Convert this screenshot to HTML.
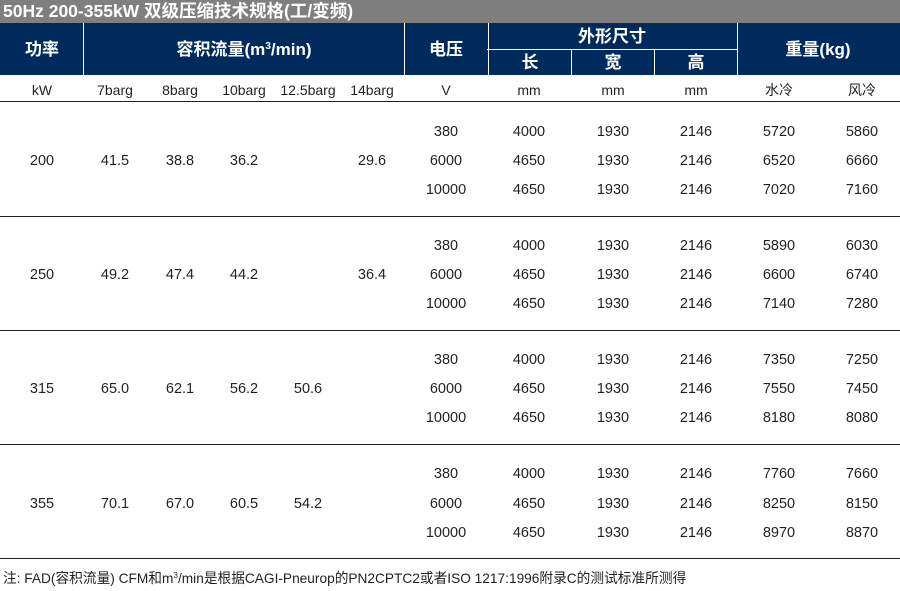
<!DOCTYPE html>
<html><head><meta charset="utf-8">
<style>
*{margin:0;padding:0;box-sizing:border-box}
html,body{width:900px;height:591px;background:#fff;overflow:hidden}
body{position:relative;font-family:"Liberation Sans","Noto Sans CJK SC",sans-serif;color:#231f20}
.t{position:absolute;left:0;top:0;width:900px;height:23px;background:#7f7f7f;color:#fff;font-weight:bold;font-size:17.5px;line-height:23px;padding-left:3px;white-space:nowrap}
.hd{position:absolute;left:0;top:23px;width:900px;height:52px;background:#002a5c}
.vl{position:absolute;width:1px;background:#fff}
.hl{position:absolute;height:1px;background:#fff}
.h{position:absolute;color:#fff;font-weight:bold;font-size:17px;text-align:center;line-height:22px;white-space:nowrap;width:200px;margin-top:1px}
.c{position:absolute;width:90px;text-align:center;font-size:14.5px;line-height:20px;white-space:nowrap;margin-top:2px}
.u{position:absolute;width:90px;text-align:center;font-size:14px;line-height:20px;white-space:nowrap;margin-top:1px}
.sep{position:absolute;left:0;width:900px;height:1.5px;background:#231f20}
.note{position:absolute;left:3px;top:568px;font-size:14px;line-height:20px;white-space:nowrap;transform-origin:0 50%}
sup{font-size:60%;vertical-align:0;position:relative;top:-0.55em}
</style></head><body>
<div class="t">50Hz 200-355kW 双级压缩技术规格(工/变频)</div>
<div class="hd"></div>
<div class="vl" style="left:83px;top:23px;height:52px"></div>
<div class="vl" style="left:404px;top:23px;height:52px"></div>
<div class="vl" style="left:488px;top:23px;height:52px"></div>
<div class="vl" style="left:737px;top:23px;height:52px"></div>
<div class="hl" style="left:487px;top:49px;width:250px"></div>
<div class="vl" style="left:571px;top:49px;height:26px"></div>
<div class="vl" style="left:654px;top:49px;height:26px"></div>

<div class="h" style="left:-58px;top:38px">功率</div>
<div class="h" style="left:144px;top:38px">容积流量(m<sup>3</sup>/min)</div>
<div class="h" style="left:346px;top:38px">电压</div>
<div class="h" style="left:512px;top:25px">外形尺寸</div>
<div class="h" style="left:430px;top:51px">长</div>
<div class="h" style="left:513px;top:51px">宽</div>
<div class="h" style="left:596px;top:51px">高</div>
<div class="h" style="left:718px;top:38px">重量(kg)</div>

<div class="u" style="left:-3px;top:79px">kW</div>
<div class="u" style="left:70px;top:79px">7barg</div>
<div class="u" style="left:135px;top:79px">8barg</div>
<div class="u" style="left:199px;top:79px">10barg</div>
<div class="u" style="left:263px;top:79px">12.5barg</div>
<div class="u" style="left:327px;top:79px">14barg</div>
<div class="u" style="left:401px;top:79px">V</div>
<div class="u" style="left:484px;top:79px">mm</div>
<div class="u" style="left:568px;top:79px">mm</div>
<div class="u" style="left:651px;top:79px">mm</div>
<div class="u" style="left:734px;top:79px">水冷</div>
<div class="u" style="left:817px;top:79px">风冷</div>

<div class="sep" style="top:100.5px"></div>
<div class="sep" style="top:215.5px"></div>
<div class="sep" style="top:329.5px"></div>
<div class="sep" style="top:443.5px"></div>
<div class="sep" style="top:557.5px"></div>

<!-- Group 1 -->
<div class="c" style="left:-3px;top:149px">200</div>
<div class="c" style="left:70px;top:149px">41.5</div>
<div class="c" style="left:135px;top:149px">38.8</div>
<div class="c" style="left:199px;top:149px">36.2</div>
<div class="c" style="left:327px;top:149px">29.6</div>
<div class="c" style="left:401px;top:120px">380</div>
<div class="c" style="left:401px;top:149px">6000</div>
<div class="c" style="left:401px;top:178px">10000</div>
<div class="c" style="left:484px;top:120px">4000</div>
<div class="c" style="left:484px;top:149px">4650</div>
<div class="c" style="left:484px;top:178px">4650</div>
<div class="c" style="left:568px;top:120px">1930</div>
<div class="c" style="left:568px;top:149px">1930</div>
<div class="c" style="left:568px;top:178px">1930</div>
<div class="c" style="left:651px;top:120px">2146</div>
<div class="c" style="left:651px;top:149px">2146</div>
<div class="c" style="left:651px;top:178px">2146</div>
<div class="c" style="left:734px;top:120px">5720</div>
<div class="c" style="left:734px;top:149px">6520</div>
<div class="c" style="left:734px;top:178px">7020</div>
<div class="c" style="left:817px;top:120px">5860</div>
<div class="c" style="left:817px;top:149px">6660</div>
<div class="c" style="left:817px;top:178px">7160</div>

<!-- Group 2 -->
<div class="c" style="left:-3px;top:263px">250</div>
<div class="c" style="left:70px;top:263px">49.2</div>
<div class="c" style="left:135px;top:263px">47.4</div>
<div class="c" style="left:199px;top:263px">44.2</div>
<div class="c" style="left:327px;top:263px">36.4</div>
<div class="c" style="left:401px;top:234px">380</div>
<div class="c" style="left:401px;top:263px">6000</div>
<div class="c" style="left:401px;top:292px">10000</div>
<div class="c" style="left:484px;top:234px">4000</div>
<div class="c" style="left:484px;top:263px">4650</div>
<div class="c" style="left:484px;top:292px">4650</div>
<div class="c" style="left:568px;top:234px">1930</div>
<div class="c" style="left:568px;top:263px">1930</div>
<div class="c" style="left:568px;top:292px">1930</div>
<div class="c" style="left:651px;top:234px">2146</div>
<div class="c" style="left:651px;top:263px">2146</div>
<div class="c" style="left:651px;top:292px">2146</div>
<div class="c" style="left:734px;top:234px">5890</div>
<div class="c" style="left:734px;top:263px">6600</div>
<div class="c" style="left:734px;top:292px">7140</div>
<div class="c" style="left:817px;top:234px">6030</div>
<div class="c" style="left:817px;top:263px">6740</div>
<div class="c" style="left:817px;top:292px">7280</div>

<!-- Group 3 -->
<div class="c" style="left:-3px;top:377px">315</div>
<div class="c" style="left:70px;top:377px">65.0</div>
<div class="c" style="left:135px;top:377px">62.1</div>
<div class="c" style="left:199px;top:377px">56.2</div>
<div class="c" style="left:263px;top:377px">50.6</div>
<div class="c" style="left:401px;top:348px">380</div>
<div class="c" style="left:401px;top:377px">6000</div>
<div class="c" style="left:401px;top:406px">10000</div>
<div class="c" style="left:484px;top:348px">4000</div>
<div class="c" style="left:484px;top:377px">4650</div>
<div class="c" style="left:484px;top:406px">4650</div>
<div class="c" style="left:568px;top:348px">1930</div>
<div class="c" style="left:568px;top:377px">1930</div>
<div class="c" style="left:568px;top:406px">1930</div>
<div class="c" style="left:651px;top:348px">2146</div>
<div class="c" style="left:651px;top:377px">2146</div>
<div class="c" style="left:651px;top:406px">2146</div>
<div class="c" style="left:734px;top:348px">7350</div>
<div class="c" style="left:734px;top:377px">7550</div>
<div class="c" style="left:734px;top:406px">8180</div>
<div class="c" style="left:817px;top:348px">7250</div>
<div class="c" style="left:817px;top:377px">7450</div>
<div class="c" style="left:817px;top:406px">8080</div>

<!-- Group 4 -->
<div class="c" style="left:-3px;top:492px">355</div>
<div class="c" style="left:70px;top:492px">70.1</div>
<div class="c" style="left:135px;top:492px">67.0</div>
<div class="c" style="left:199px;top:492px">60.5</div>
<div class="c" style="left:263px;top:492px">54.2</div>
<div class="c" style="left:401px;top:462px">380</div>
<div class="c" style="left:401px;top:492px">6000</div>
<div class="c" style="left:401px;top:521px">10000</div>
<div class="c" style="left:484px;top:462px">4000</div>
<div class="c" style="left:484px;top:492px">4650</div>
<div class="c" style="left:484px;top:521px">4650</div>
<div class="c" style="left:568px;top:462px">1930</div>
<div class="c" style="left:568px;top:492px">1930</div>
<div class="c" style="left:568px;top:521px">1930</div>
<div class="c" style="left:651px;top:462px">2146</div>
<div class="c" style="left:651px;top:492px">2146</div>
<div class="c" style="left:651px;top:521px">2146</div>
<div class="c" style="left:734px;top:462px">7760</div>
<div class="c" style="left:734px;top:492px">8250</div>
<div class="c" style="left:734px;top:521px">8970</div>
<div class="c" style="left:817px;top:462px">7660</div>
<div class="c" style="left:817px;top:492px">8150</div>
<div class="c" style="left:817px;top:521px">8870</div>

<div class="note" style="transform:scaleX(0.978)">注: FAD(容积流量) CFM和m<sup>3</sup>/min是根据CAGI-Pneurop的PN2CPTC2或者ISO 1217:1996附录C的测试标准所测得</div>
</body></html>
